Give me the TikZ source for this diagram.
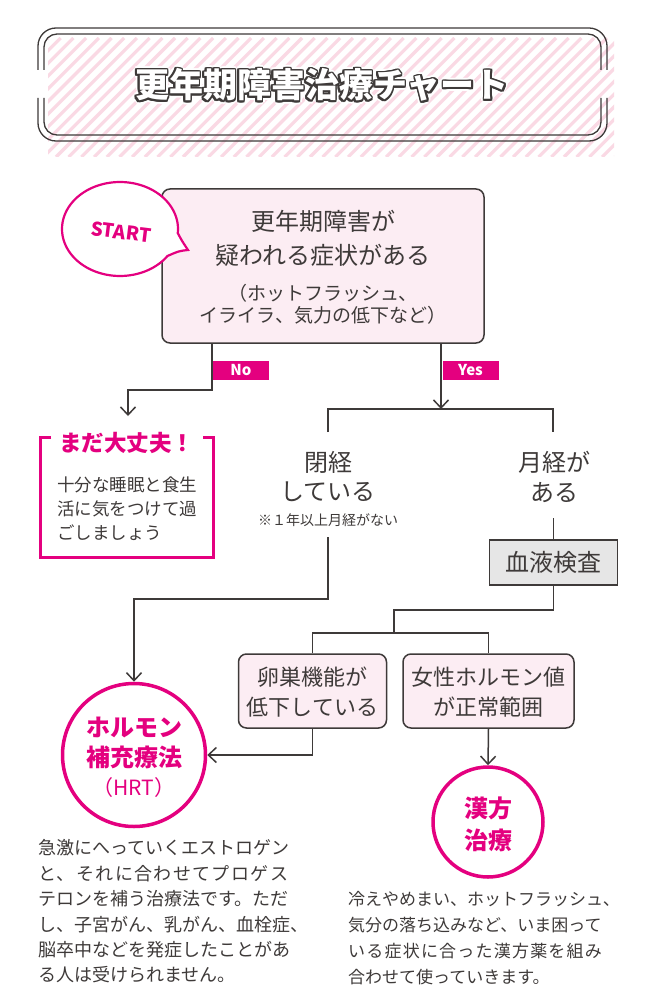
\documentclass[tikz,border=0pt]{standalone}
\usepackage{fontspec}
\setmainfont{Noto Sans CJK JP}
\usetikzlibrary{arrows.meta}
\definecolor{mag}{HTML}{E4007F}
\definecolor{ink}{HTML}{3E3A39}
\definecolor{pinkfill}{HTML}{FCEDF3}
\definecolor{grayfill}{HTML}{E6E6E6}
\definecolor{stripe}{HTML}{FAD9E4}
\newcommand\fsz[1]{\fontsize{#1}{#1}\selectfont}
\tikzset{
  conn/.style={draw=ink, line width=1.5pt},
  arr/.style={conn, -{Straight Barb[length=8pt,width=15pt]}},
  jt/.style={inner sep=0pt, text=ink, anchor=base},
  jl/.style={inner sep=0pt, text=ink, anchor=base west},
  pbox/.style={draw=ink, line width=1.5pt, fill=pinkfill, rounded corners=8pt, inner sep=0pt},
  lbl/.style={fill=mag, text=white, font=\fsz{15}\bfseries, minimum width=56pt, minimum height=19pt, inner sep=0pt},
  goal/.style={circle, draw=mag, line width=3.5pt, fill=white, inner sep=0pt},
  mt/.style={inner sep=0pt, text=mag, anchor=base, font=\fsz{24}\bfseries},
  titlef/.style={inner sep=0pt, anchor=base, font=\fsz{34}\bfseries},
  tline/.style={draw=ink, line width=1.3pt}
}
\begin{document}
\begin{tikzpicture}[x=1pt,y=-1pt]
\useasboundingbox (0,0) rectangle (660,1008);
\fill[white] (0,0) rectangle (660,1008);
% striped title background
\begin{scope}
  \clip (48,38) rectangle (614,157);
  \foreach \i in {0,...,56} \draw[stripe, line width=3.2pt] ({48+\i*12.7-119},157) -- ++(119,-119);
\end{scope}
% double frame with gaps on the sides
\draw[tline, rounded corners=18pt] (38,70) -- (38,28) -- (607,28) -- (607,70);
\draw[tline, rounded corners=18pt] (38,98) -- (38,141) -- (607,141) -- (607,98);
\draw[tline, rounded corners=13pt] (44,70) -- (44,34) -- (601,34) -- (601,70);
\draw[tline, rounded corners=13pt] (44,98) -- (44,135) -- (601,135) -- (601,98);
% outlined title
\foreach \a in {0,30,...,330} \path (322,98) ++(\a:3.6) node[titlef, text=white] {更年期障害治療チャート};
\foreach \a in {0,22.5,...,337.5} \path (322,98) ++(\a:1.8) node[titlef, text=ink] {更年期障害治療チャート};
\node[titlef, text=white] (title) at (322,98) {更年期障害治療チャート};

% main question box
\node[pbox, minimum width=322pt, minimum height=154pt] (main) at (323,266) {};
\node[jt, font=\fsz{24}] (m1) at (323,231) {更年期障害が};
\node[jt, font=\fsz{24}] (m2) at (323,264) {疑われる症状がある};
\node[jt, font=\fsz{19}] (m3) at (323,300) {（ホットフラッシュ、};
\node[jt, font=\fsz{19}] (m4) at (323,322) {イライラ、気力の低下など）};

% START bubble
\draw[mag, line width=2.2pt, fill=white] plot[domain=35:365, samples=100] ({120+58*cos(\x)},{229+47*sin(\x)}) .. controls (182,241) .. (188,250) .. controls (179,251) .. cycle;
\node[inner sep=0pt, text=mag, font=\fsz{19}\bfseries, rotate=-7] (start) at (121,232) {START};

% No branch
\coordinate (noEnd) at (128,416);
\draw[arr] ([xshift=-111pt]main.south) -- ++(0,46) -| (noEnd);
\node[lbl] (no) at (241,370.5) {No};

% Yes branch
\coordinate (yesEnd) at (441,409);
\draw[arr] ([xshift=118pt]main.south) -- (yesEnd);
\node[lbl] (yes) at (470.5,370.5) {Yes};
\coordinate (ybL) at (328,432);
\coordinate (ybR) at (553,432);
\draw[conn] (ybL) |- (yesEnd) -| (ybR);

% まだ大丈夫 box
\draw[mag, line width=3pt] (51,437) -- (40,437) -- (40,557) -- (213,557) -- (213,437) -- (203,437);
\node[inner sep=0pt, text=mag, anchor=base, font=\fsz{22.5}\bfseries] (dai) at (126.5,451.5) {まだ大丈夫！};
\node[jl, font=\fsz{17.5}] (d1) at (57,491.6) {十分な睡眠と食生};
\node[jl, font=\fsz{17.5}] (d2) at (57,515.6) {活に気をつけて過};
\node[jl, font=\fsz{17.5}] (d3) at (57,539.6) {ごしましょう};

% 閉経 / 月経
\node[jt, font=\fsz{24}] (hei) at (328,471) {閉経};
\node[jt, font=\fsz{24}] (hei2) at (328,500) {している};
\node[jt, font=\fsz{14}] (note) at (328,525.3) {※１年以上月経がない};
\node[jt, font=\fsz{24}] (gek) at (554,471) {月経が};
\node[jt, font=\fsz{24}] (gek2) at (554,501) {ある};

% blood test
\node[draw=ink, line width=1.5pt, fill=grayfill, minimum width=128pt, minimum height=45pt, inner sep=0pt] (blood) at (553.5,562.5) {};
\node[jt, font=\fsz{24}] (bloodt) at (553.5,571.5) {血液検査};
\coordinate (gekBot) at (553.5,518);
\draw[conn] (gekBot) -- (blood.north);

% result boxes
\node[pbox, minimum width=148pt, minimum height=74pt] (ovary) at (312.5,691) {};
\node[jt, font=\fsz{22}] (ov1) at (312.5,685.4) {卵巣機能が};
\node[jt, font=\fsz{22}] (ov2) at (312.5,715.4) {低下している};
\node[pbox, minimum width=171pt, minimum height=74pt] (horm) at (488.5,691) {};
\node[jt, font=\fsz{22}] (ho1) at (488.5,685.4) {女性ホルモン値};
\node[jt, font=\fsz{22}] (ho2) at (488.5,715.4) {が正常範囲};
\coordinate (bsplit) at (394,633);
\draw[conn] (blood.south) -- ++(0,24) -| (bsplit);
\draw[conn] (ovary.north) |- (bsplit) -| (horm.north);

% goal circles
\node[goal, minimum size=143pt] (hrt) at (134,755) {};
\node[mt] (hrt1) at (134,736) {ホルモン};
\node[mt] (hrt2) at (134,766) {補充療法};
\node[inner sep=0pt, text=mag, anchor=base, font=\fsz{21}] (hrt3) at (134,795) {（HRT）};
\node[goal, minimum size=110pt] (kampo) at (488,822) {};
\node[mt] (ka1) at (488,817) {漢方};
\node[mt] (ka2) at (488,849) {治療};

\coordinate (heiBot) at (328,537);
\draw[arr] (heiBot) -- ++(0,62) -| (hrt.north);
\draw[arr] (ovary.south) |- (hrt.east);
\draw[arr] (horm.south) -- (kampo.north);

% explanations
\node[jl, font=\fsz{18}] (l1) at (38,854.8) {急激にへっていくエストロゲン};
\node[jl, font={\fsz{18}\addfontfeatures{LetterSpace=7.7}}] (l2) at (38,880.2) {と、それに合わせてプロゲス};
\node[jl, font=\fsz{18}] (l3) at (38,905.6) {テロンを補う治療法です。ただ};
\node[jl, font=\fsz{18}] (l4) at (38,931) {し、子宮がん、乳がん、血栓症、};
\node[jl, font=\fsz{18}] (l5) at (38,956.4) {脳卒中などを発症したことがあ};
\node[jl, font=\fsz{18}] (l6) at (38,981.8) {る人は受けられません。};
\node[jl, font=\fsz{17}] (r1) at (348,905.5) {冷えやめまい、ホットフラッシュ、};
\node[jl, font=\fsz{17}] (r2) at (348,931.5) {気分の落ち込みなど、いま困って};
\node[jl, font={\fsz{17}\addfontfeatures{LetterSpace=7.1}}] (r3) at (348,957.5) {いる症状に合った漢方薬を組み};
\node[jl, font=\fsz{17}] (r4) at (348,983.5) {合わせて使っていきます。};
\end{tikzpicture}
\end{document}
